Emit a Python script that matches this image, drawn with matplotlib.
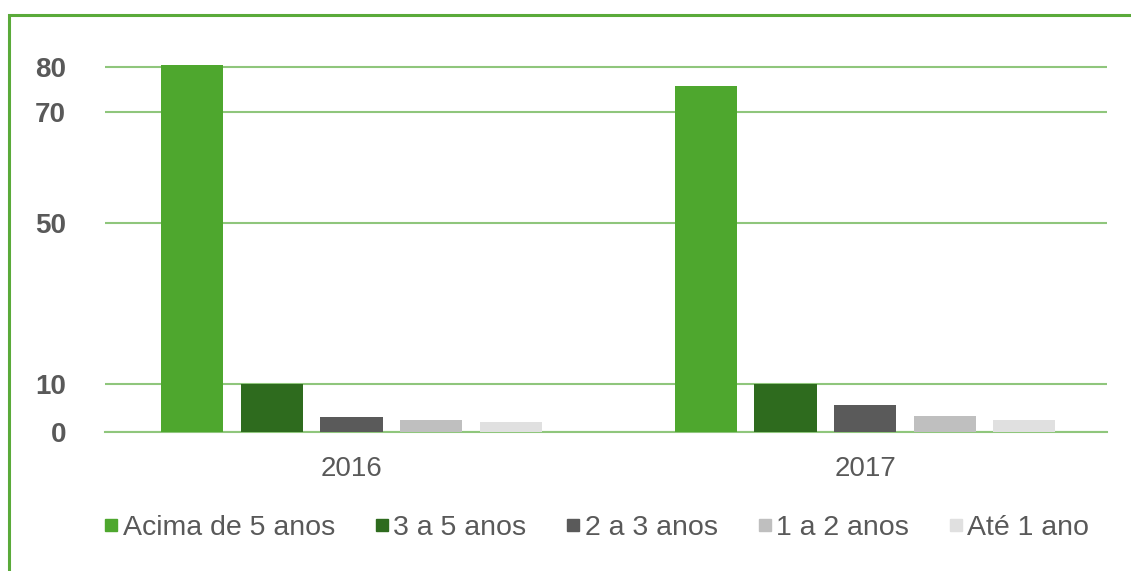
import numpy as np
import matplotlib
matplotlib.use("Agg")
import matplotlib.pyplot as plt
from matplotlib.lines import Line2D
from matplotlib.patches import Rectangle

plt.rcParams['font.family'] = ['Liberation Sans', 'DejaVu Sans']

# ---- data ----
years = ["2016", "2017"]
series_names = ["Acima de 5 anos", "3 a 5 anos", "2 a 3 anos", "1 a 2 anos", "Até 1 ano"]
acima_5 = [80.4, 75.8]
de_3_a_5 = [10.0, 10.0]
de_2_a_3 = [3.2, 5.6]
de_1_a_2 = [2.5, 3.3]
ate_1 = [2.1, 2.5]
yticks = [0, 10, 50, 70, 80]
ytick_labels = ["0", "10", "50", "70", "80"]

series_values = [acima_5, de_3_a_5, de_2_a_3, de_1_a_2, ate_1]
colors = ["#4ea72e", "#2e6b1e", "#5a5a5a", "#bfbfbf", "#e0e0e0"]
grid_color = "#8fc67c"

# piecewise (non-uniform) value axis as in the original
knot_v = np.array([-100, 0, 10, 50, 70, 80, 200], dtype=float)
knot_p = np.array([-480, 0, 48, 209, 320, 365, 365 + 120 * 4.5], dtype=float)

def fwd(v):
    return np.interp(v, knot_v, knot_p)

def inv(p):
    return np.interp(p, knot_p, knot_v)

W, H = 1131, 571
fig = plt.figure(figsize=(W / 100, H / 100), dpi=100)

# green frame
fig.patches.append(Rectangle((9.0 / W, -0.1), 1.2, (H - 15.0) / H + 0.1,
                             transform=fig.transFigure, fill=False,
                             edgecolor="#5aaa3a", linewidth=2.2))

ax_left, ax_right = 105, 1107
ax_bottom_px = 432
ymax = 80.5
ax_top_px = ax_bottom_px - fwd(ymax)
ax = fig.add_axes([ax_left / W, (H - ax_bottom_px) / H,
                   (ax_right - ax_left) / W, (ax_bottom_px - ax_top_px) / H])
ax.set_yscale('function', functions=(fwd, inv))
ax.set_ylim(0, ymax)

x = np.arange(len(years))
bw = 0.121
pitch = 0.155
for i, (name, vals, c) in enumerate(zip(series_names, series_values, colors)):
    ax.bar(x + (i - 2) * pitch, vals, width=bw, color=c, label=name, zorder=3)

ax.set_xlim(-0.48, 1.471)
ax.set_xticks(x)
ax.set_xticklabels(years, fontsize=20, color="#595959")
ax.set_yticks(yticks)
ax.set_yticklabels(ytick_labels, fontsize=20, fontweight='bold', color="#595959")
ax.yaxis.set_minor_locator(matplotlib.ticker.NullLocator())
ax.tick_params(axis='both', length=0)
ax.tick_params(axis='y', pad=28)
ax.tick_params(axis='x', pad=17)
for s in ax.spines.values():
    s.set_visible(False)
ax.grid(axis='y', color=grid_color, linewidth=1.5, zorder=0)
ax.axhline(0, color=grid_color, linewidth=1.5, clip_on=False, zorder=2)
ax.set_axisbelow(True)

handles = [Line2D([], [], marker='s', linestyle='none', markersize=8.5,
                  markerfacecolor=c, markeredgecolor=c) for c in colors]
fig.legend(handles, series_names, loc='center', ncol=5,
           bbox_to_anchor=(596 / W, 1 - 528 / H), frameon=False,
           fontsize=20.5, labelcolor="#595959", handlelength=0.6,
           handletextpad=0.1, columnspacing=1.35)

fig.savefig("out.png", dpi=100)
